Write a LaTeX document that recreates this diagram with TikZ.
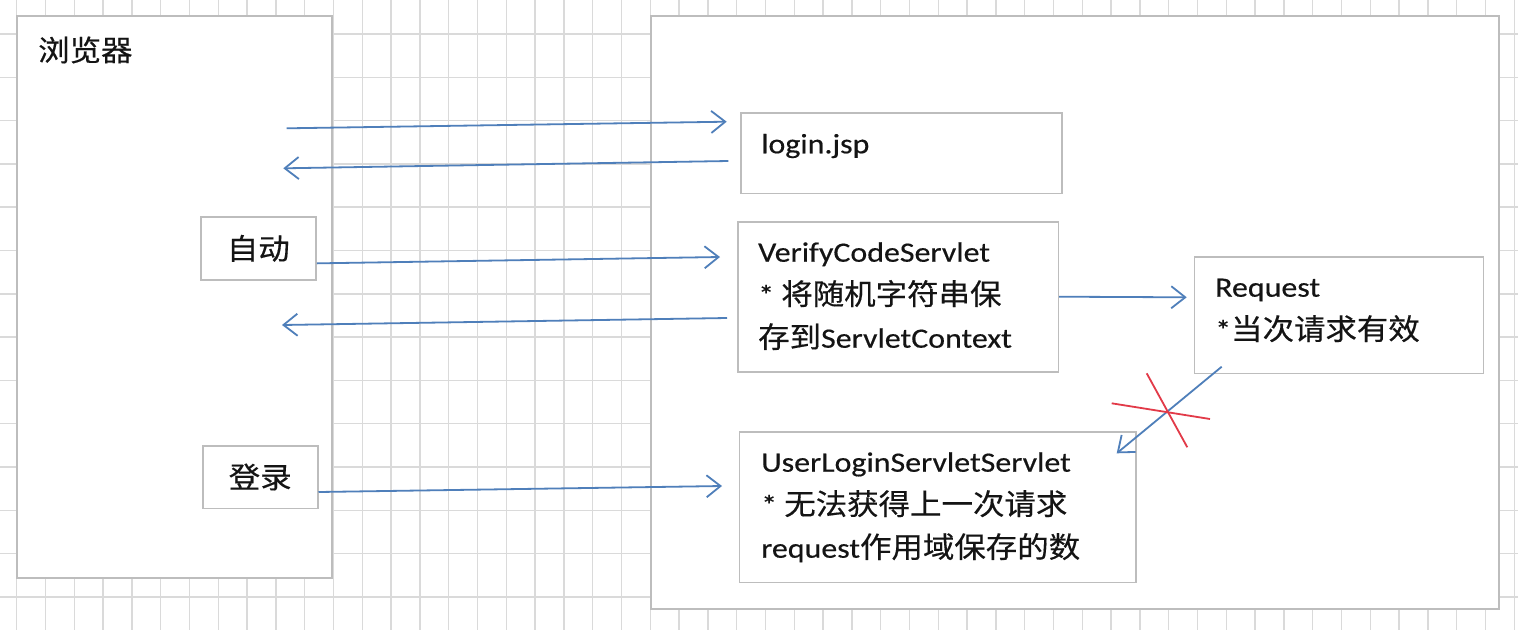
\documentclass[tikz,border=0pt]{standalone}
\usepackage{fontspec}
\setmainfont[FakeStretch=1.14,FakeBold=0.4]{Carlito}
\newfontfamily\cjk[FakeStretch=1.08,Scale=1.04,FakeBold=0.4]{Noto Sans CJK SC}
\usetikzlibrary{arrows.meta}
\definecolor{gridc}{HTML}{DADADA}
\definecolor{boxc}{HTML}{BDBDBD}
\definecolor{arrc}{HTML}{4F7FBA}
\definecolor{crossc}{HTML}{E23A48}
\definecolor{txtc}{HTML}{141414}
\begin{document}
\begin{tikzpicture}[x=1pt,y=-1pt,
  gridline/.style={draw=gridc,line width=1.5pt},
  bigbox/.style={draw=boxc,fill=white,line width=2pt,inner sep=0pt,rectangle},
  smallbox/.style={draw=boxc,fill=white,line width=1.6pt,inner sep=0pt,rectangle},
  lbl/.style={inner sep=0pt,text=txtc,font=\fontsize{28}{43}\selectfont},
  flow/.style={draw=arrc,line width=1.8pt,-{Straight Barb[length=14pt,width=22pt]}},
  crossline/.style={draw=crossc,line width=1.8pt}]
\useasboundingbox (0,0) rectangle (1518,630);
\fill[white] (0,0) rectangle (1518,630);
% grid
\foreach \i in {0,...,52} \draw[gridline] ({16.7+28.8*\i},0) -- ({16.7+28.8*\i},630);
\foreach \j in {0,...,13} \draw[gridline] (0,{34+43.3*\j}) -- (1518,{34+43.3*\j});
% containers
\node[bigbox,minimum width=315pt,minimum height=562pt] (browser) at (174.5,297) {};
\node[bigbox,minimum width=848pt,minimum height=593pt] (server) at (1075,312.5) {};
\node[lbl,anchor=base west] (browserlbl) at (38,61) {\cjk 浏览器};
% browser buttons
\node[smallbox,lbl,draw=boxc,fill=white,line width=1.6pt,minimum width=115.3pt,minimum height=63.3pt] (zidong) at (258.35,248.35) {\cjk 自动};
\node[smallbox,lbl,draw=boxc,fill=white,line width=1.6pt,minimum width=115pt,minimum height=62.6pt] (denglu) at (260.2,477) {\cjk 登录};
% server boxes
\node[smallbox,minimum width=321pt,minimum height=80.6pt] (login) at (901.2,153) {};
\node[smallbox,minimum width=320.6pt,minimum height=150pt] (verify) at (898,296.7) {};
\node[smallbox,minimum width=289pt,minimum height=116.6pt] (request) at (1338.8,315) {};
\node[smallbox,minimum width=396.4pt,minimum height=150.5pt] (userlogin) at (937.5,507.25) {};
% labels
\node[lbl,anchor=base west] (loginlbl) at (761,153.3) {login.jsp};
\node[lbl,anchor=base west] (verifylbl) at (758,261.7) {\vtop{\hbox{VerifyCodeServlet}\hbox{* {\cjk 将随机字符串保}}\hbox{{\cjk 存到}ServletContext}}};
\node[lbl,anchor=base west] (requestlbl) at (1215,296.7) {\vtop{\hbox{Request}\hbox{*{\cjk 当次请求有效}}}};
\node[lbl,anchor=base west] (userloginlbl) at (761,471.7) {\vtop{\hbox{UserLoginServletServlet}\hbox{* {\cjk 无法获得上一次请求}}\hbox{request{\cjk 作用域保存的数}}}};
% connector end points
\coordinate (b1) at (286.7,128.3);
\coordinate (lgin) at (726.7,121.7);
\coordinate (lgout) at (728.3,161);
\coordinate (b2) at (283.3,168.3);
\coordinate (vcin) at (720,257);
\coordinate (vcout) at (727,318);
\coordinate (b3) at (282,325);
\coordinate (rqin) at (1186.7,297.3);
\coordinate (rqout) at (1221.7,366.7);
\coordinate (ulfromrq) at (1116.7,453.3);
\coordinate (ulin) at (722,486);
% connectors
\draw[flow] (b1) -- (lgin);
\draw[flow] (lgout) -- (b2);
\draw[flow] ([yshift=-15pt]zidong.east) -- (vcin);
\draw[flow] (vcout) -- (b3);
\draw[flow] (verify.east) -- (rqin);
\draw[flow] (rqout) -- (ulfromrq);
\draw[flow] ([yshift=-15pt]denglu.east) -- (ulin);
% red cross
\coordinate (x1a) at (1111.7,403.3);
\coordinate (x1b) at (1210,419);
\coordinate (x2a) at (1146.7,373.3);
\coordinate (x2b) at (1187.3,447.3);
\draw[crossline] (x1a) -- (x1b);
\draw[crossline] (x2a) -- (x2b);
\end{tikzpicture}
\end{document}
